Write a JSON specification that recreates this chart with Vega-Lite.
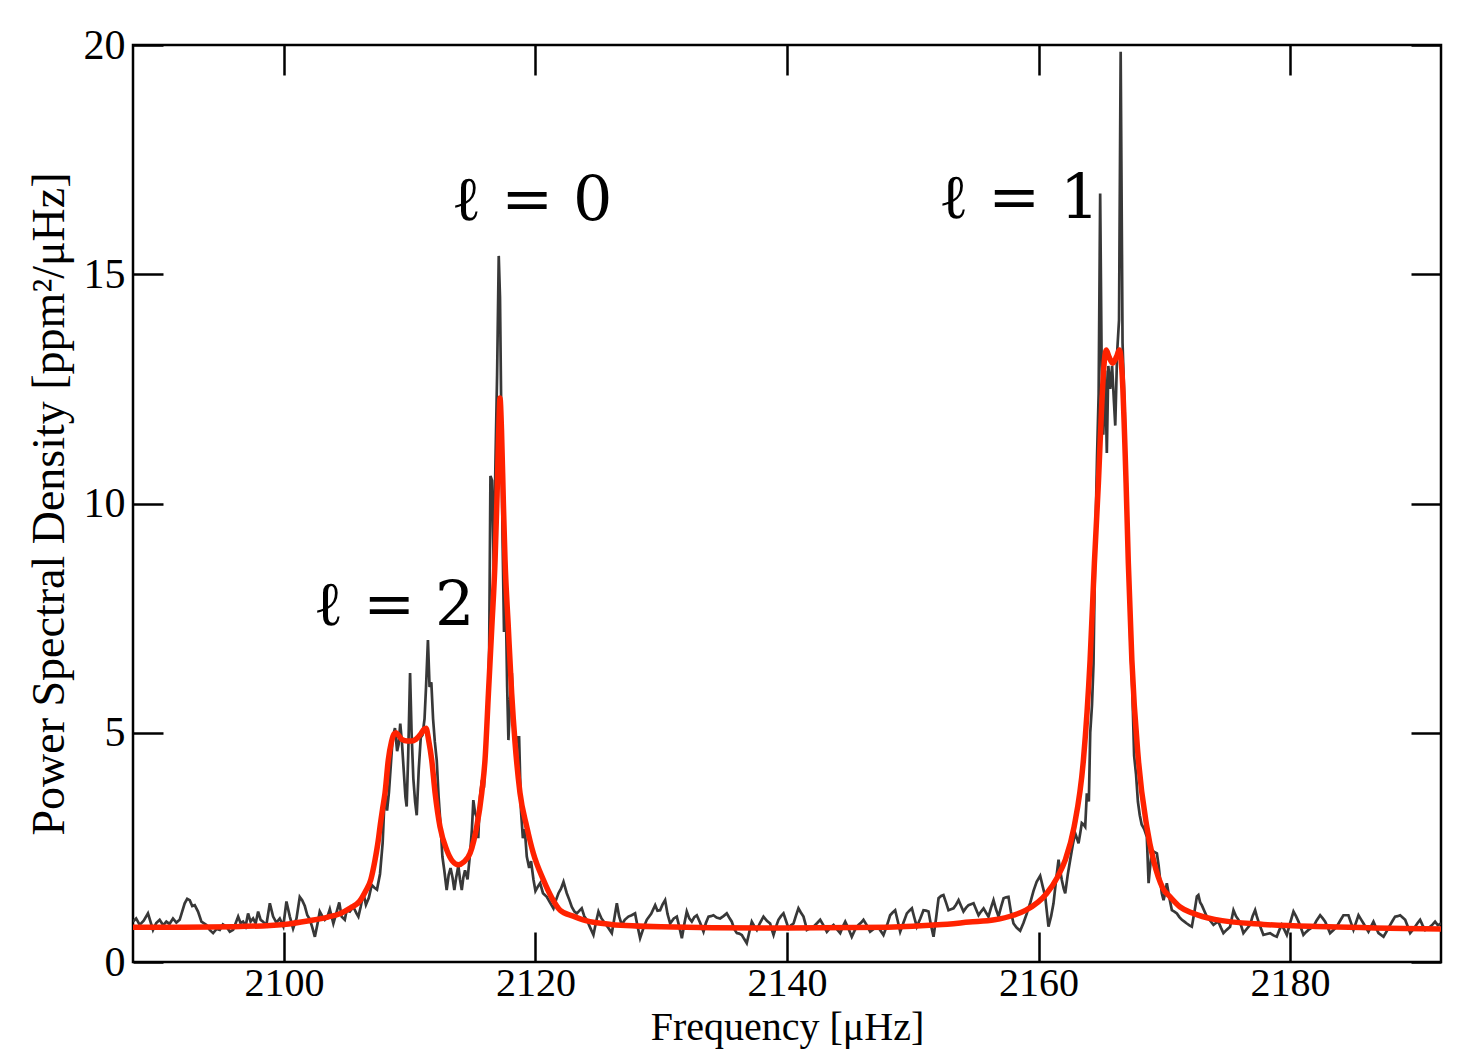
{
  "$schema": "https://vega.github.io/schema/vega-lite/v6.json",
  "width": 1308,
  "height": 917,
  "autosize": {"type": "none"},
  "padding": {"left": 133, "top": 45, "right": 19, "bottom": 93},
  "background": "white",
  "config": {
    "view": {"stroke": "#000", "strokeWidth": 2.5},
    "axis": {
      "domain": false, "grid": false, "ticks": true,
      "tickColor": "#000", "tickWidth": 2.5, "tickSize": -30,
      "labelFont": "Liberation Serif", "labelFontSize": 42, "labelColor": "#000",
      "titleFont": "Liberation Serif", "titleFontSize": 46, "titleFontWeight": "normal", "titleColor": "#000"
    }
  },
  "datasets": {
    "spec": [
      {"f":2088.0,"p":0.88},{"f":2088.25,"p":0.95},{"f":2088.53,"p":0.81},{"f":2088.85,"p":0.9},{"f":2089.19,"p":1.06},{"f":2089.59,"p":0.70},{"f":2089.85,"p":0.85},{"f":2090.12,"p":0.92},{"f":2090.4,"p":0.80},{"f":2090.65,"p":0.88},{"f":2090.9,"p":0.83},{"f":2091.18,"p":0.95},{"f":2091.45,"p":0.86},{"f":2091.71,"p":0.92},{"f":2092.11,"p":1.28},{"f":2092.31,"p":1.38},{"f":2092.51,"p":1.35},{"f":2092.71,"p":1.22},{"f":2092.91,"p":1.24},{"f":2093.17,"p":1.10},{"f":2093.44,"p":0.88},{"f":2093.84,"p":0.81},{"f":2094.1,"p":0.70},{"f":2094.37,"p":0.63},{"f":2094.65,"p":0.72},{"f":2094.90,"p":0.70},{"f":2095.15,"p":0.82},{"f":2095.43,"p":0.77},{"f":2095.7,"p":0.66},{"f":2095.96,"p":0.70},{"f":2096.36,"p":0.99},{"f":2096.55,"p":0.85},{"f":2096.75,"p":0.88},{"f":2096.95,"p":0.78},{"f":2097.15,"p":1.06},{"f":2097.35,"p":0.88},{"f":2097.55,"p":0.95},{"f":2097.75,"p":0.84},{"f":2097.95,"p":1.10},{"f":2098.15,"p":0.92},{"f":2098.34,"p":0.88},{"f":2098.6,"p":0.80},{"f":2098.88,"p":1.28},{"f":2099.14,"p":0.99},{"f":2099.4,"p":0.86},{"f":2099.67,"p":0.95},{"f":2099.95,"p":0.78},{"f":2100.20,"p":1.32},{"f":2100.47,"p":0.99},{"f":2100.73,"p":0.73},{"f":2101.0,"p":0.95},{"f":2101.26,"p":1.42},{"f":2101.45,"p":1.35},{"f":2101.66,"p":1.22},{"f":2101.86,"p":1.02},{"f":2102.06,"p":0.93},{"f":2102.26,"p":0.75},{"f":2102.46,"p":0.55},{"f":2102.66,"p":0.82},{"f":2102.85,"p":1.10},{"f":2103.05,"p":1.0},{"f":2103.25,"p":0.92},{"f":2103.45,"p":0.98},{"f":2103.65,"p":1.15},{"f":2103.93,"p":0.84},{"f":2104.15,"p":1.05},{"f":2104.40,"p":1.30},{"f":2104.59,"p":0.99},{"f":2104.84,"p":0.92},{"f":2104.99,"p":1.13},{"f":2105.24,"p":1.10},{"f":2105.52,"p":1.20},{"f":2105.77,"p":1.06},{"f":2105.92,"p":0.99},{"f":2106.1,"p":1.2},{"f":2106.32,"p":1.50},{"f":2106.52,"p":1.25},{"f":2106.75,"p":1.40},{"f":2106.98,"p":1.68},{"f":2107.2,"p":1.62},{"f":2107.4,"p":1.58},{"f":2107.64,"p":1.92},{"f":2107.85,"p":2.6},{"f":2108.04,"p":3.8},{"f":2108.2,"p":3.3},{"f":2108.35,"p":3.7},{"f":2108.5,"p":4.3},{"f":2108.65,"p":4.9},{"f":2108.83,"p":5.1},{"f":2109.0,"p":4.6},{"f":2109.12,"p":4.75},{"f":2109.25,"p":5.2},{"f":2109.38,"p":4.8},{"f":2109.52,"p":4.2},{"f":2109.66,"p":3.6},{"f":2109.76,"p":3.39},{"f":2109.88,"p":4.5},{"f":2110.03,"p":6.3},{"f":2110.15,"p":5.0},{"f":2110.29,"p":4.0},{"f":2110.43,"p":3.5},{"f":2110.56,"p":3.2},{"f":2110.72,"p":4.2},{"f":2110.88,"p":4.9},{"f":2111.02,"p":4.95},{"f":2111.18,"p":5.3},{"f":2111.3,"p":6.0},{"f":2111.45,"p":7.02},{"f":2111.58,"p":6.0},{"f":2111.72,"p":6.1},{"f":2111.86,"p":5.3},{"f":2112.0,"p":4.8},{"f":2112.15,"p":4.4},{"f":2112.3,"p":3.6},{"f":2112.45,"p":3.0},{"f":2112.6,"p":2.3},{"f":2112.75,"p":2.0},{"f":2112.94,"p":1.57},{"f":2113.1,"p":1.9},{"f":2113.25,"p":2.05},{"f":2113.4,"p":1.85},{"f":2113.55,"p":1.57},{"f":2113.7,"p":1.85},{"f":2113.87,"p":2.1},{"f":2114.0,"p":1.8},{"f":2114.14,"p":1.57},{"f":2114.27,"p":1.85},{"f":2114.40,"p":2.0},{"f":2114.6,"p":1.8},{"f":2114.80,"p":2.37},{"f":2114.95,"p":2.9},{"f":2115.06,"p":3.53},{"f":2115.2,"p":3.25},{"f":2115.33,"p":3.16},{"f":2115.45,"p":2.7},{"f":2115.59,"p":3.6},{"f":2115.75,"p":3.97},{"f":2115.9,"p":3.8},{"f":2116.05,"p":4.6},{"f":2116.2,"p":5.5},{"f":2116.32,"p":6.8},{"f":2116.42,"p":10.6},{"f":2116.55,"p":10.5},{"f":2116.68,"p":8.6},{"f":2116.82,"p":10.9},{"f":2116.95,"p":12.8},{"f":2117.08,"p":15.4},{"f":2117.18,"p":14.5},{"f":2117.28,"p":12.0},{"f":2117.38,"p":9.3},{"f":2117.5,"p":7.2},{"f":2117.62,"p":8.2},{"f":2117.75,"p":6.0},{"f":2117.85,"p":4.84},{"f":2117.98,"p":5.7},{"f":2118.12,"p":6.3},{"f":2118.25,"p":5.2},{"f":2118.4,"p":4.6},{"f":2118.55,"p":4.9},{"f":2118.7,"p":4.9},{"f":2118.85,"p":3.3},{"f":2119.0,"p":2.7},{"f":2119.15,"p":2.9},{"f":2119.31,"p":2.3},{"f":2119.5,"p":2.05},{"f":2119.65,"p":2.2},{"f":2119.84,"p":1.8},{"f":2120.0,"p":1.55},{"f":2120.2,"p":1.65},{"f":2120.37,"p":1.72},{"f":2120.6,"p":1.5},{"f":2120.9,"p":1.42},{"f":2121.15,"p":1.3},{"f":2121.43,"p":1.17},{"f":2121.63,"p":1.35},{"f":2121.83,"p":1.50},{"f":2122.03,"p":1.6},{"f":2122.23,"p":1.75},{"f":2122.49,"p":1.50},{"f":2122.7,"p":1.35},{"f":2122.89,"p":1.20},{"f":2123.1,"p":1.10},{"f":2123.29,"p":1.06},{"f":2123.5,"p":1.12},{"f":2123.68,"p":1.17},{"f":2123.88,"p":1.0},{"f":2124.08,"p":0.92},{"f":2124.35,"p":0.75},{"f":2124.61,"p":0.59},{"f":2124.8,"p":0.85},{"f":2125.01,"p":1.10},{"f":2125.25,"p":0.95},{"f":2125.54,"p":0.84},{"f":2125.8,"p":0.74},{"f":2126.07,"p":0.63},{"f":2126.27,"p":0.95},{"f":2126.47,"p":1.28},{"f":2126.65,"p":1.0},{"f":2126.86,"p":0.81},{"f":2127.1,"p":0.92},{"f":2127.39,"p":0.99},{"f":2127.65,"p":1.02},{"f":2127.92,"p":1.06},{"f":2128.1,"p":0.8},{"f":2128.32,"p":0.52},{"f":2128.6,"p":0.75},{"f":2128.85,"p":0.92},{"f":2129.2,"p":1.05},{"f":2129.52,"p":1.24},{"f":2129.7,"p":1.12},{"f":2129.91,"p":1.13},{"f":2130.1,"p":1.25},{"f":2130.31,"p":1.35},{"f":2130.5,"p":1.05},{"f":2130.71,"p":0.84},{"f":2131.0,"p":0.95},{"f":2131.24,"p":0.99},{"f":2131.45,"p":0.75},{"f":2131.64,"p":0.52},{"f":2131.85,"p":0.85},{"f":2132.03,"p":1.10},{"f":2132.23,"p":0.95},{"f":2132.43,"p":0.88},{"f":2132.63,"p":0.98},{"f":2132.83,"p":1.02},{"f":2133.1,"p":0.85},{"f":2133.36,"p":0.66},{"f":2133.55,"p":0.85},{"f":2133.76,"p":0.99},{"f":2133.95,"p":1.0},{"f":2134.15,"p":1.02},{"f":2134.4,"p":0.97},{"f":2134.68,"p":0.95},{"f":2134.95,"p":1.0},{"f":2135.21,"p":1.06},{"f":2135.4,"p":0.97},{"f":2135.61,"p":0.88},{"f":2135.8,"p":0.72},{"f":2136.01,"p":0.63},{"f":2136.2,"p":0.62},{"f":2136.41,"p":0.59},{"f":2136.6,"p":0.5},{"f":2136.8,"p":0.41},{"f":2137.0,"p":0.65},{"f":2137.2,"p":0.88},{"f":2137.4,"p":0.78},{"f":2137.6,"p":0.70},{"f":2137.85,"p":0.85},{"f":2138.13,"p":0.99},{"f":2138.4,"p":0.9},{"f":2138.66,"p":0.84},{"f":2138.8,"p":0.7},{"f":2138.93,"p":0.59},{"f":2139.1,"p":0.75},{"f":2139.32,"p":0.92},{"f":2139.52,"p":1.0},{"f":2139.72,"p":1.06},{"f":2139.92,"p":0.9},{"f":2140.12,"p":0.73},{"f":2140.32,"p":0.8},{"f":2140.52,"p":0.84},{"f":2140.7,"p":1.0},{"f":2140.91,"p":1.17},{"f":2141.1,"p":1.08},{"f":2141.31,"p":0.99},{"f":2141.45,"p":0.85},{"f":2141.58,"p":0.70},{"f":2141.85,"p":0.74},{"f":2142.11,"p":0.77},{"f":2142.4,"p":0.85},{"f":2142.64,"p":0.92},{"f":2142.9,"p":0.8},{"f":2143.17,"p":0.66},{"f":2143.45,"p":0.75},{"f":2143.70,"p":0.81},{"f":2143.95,"p":0.72},{"f":2144.23,"p":0.63},{"f":2144.45,"p":0.78},{"f":2144.63,"p":0.88},{"f":2144.9,"p":0.72},{"f":2145.15,"p":0.55},{"f":2145.4,"p":0.7},{"f":2145.68,"p":0.81},{"f":2145.9,"p":0.86},{"f":2146.08,"p":0.92},{"f":2146.35,"p":0.8},{"f":2146.61,"p":0.66},{"f":2146.9,"p":0.72},{"f":2147.14,"p":0.77},{"f":2147.4,"p":0.7},{"f":2147.67,"p":0.59},{"f":2147.95,"p":0.8},{"f":2148.20,"p":1.02},{"f":2148.4,"p":1.08},{"f":2148.60,"p":1.13},{"f":2148.8,"p":0.9},{"f":2149.00,"p":0.66},{"f":2149.25,"p":0.85},{"f":2149.53,"p":1.06},{"f":2149.73,"p":1.12},{"f":2149.93,"p":1.17},{"f":2150.12,"p":0.97},{"f":2150.32,"p":0.77},{"f":2150.6,"p":0.95},{"f":2150.85,"p":1.13},{"f":2151.05,"p":1.12},{"f":2151.25,"p":1.10},{"f":2151.45,"p":0.8},{"f":2151.65,"p":0.55},{"f":2151.85,"p":0.95},{"f":2152.05,"p":1.39},{"f":2152.25,"p":1.44},{"f":2152.44,"p":1.46},{"f":2152.64,"p":1.3},{"f":2152.84,"p":1.13},{"f":2153.04,"p":1.15},{"f":2153.24,"p":1.17},{"f":2153.44,"p":1.25},{"f":2153.64,"p":1.35},{"f":2153.84,"p":1.22},{"f":2154.03,"p":1.10},{"f":2154.23,"p":1.18},{"f":2154.43,"p":1.24},{"f":2154.63,"p":1.26},{"f":2154.83,"p":1.28},{"f":2155.03,"p":1.15},{"f":2155.23,"p":1.02},{"f":2155.43,"p":1.1},{"f":2155.63,"p":1.17},{"f":2155.82,"p":1.08},{"f":2156.02,"p":0.99},{"f":2156.22,"p":1.18},{"f":2156.42,"p":1.35},{"f":2156.62,"p":1.15},{"f":2156.82,"p":0.99},{"f":2157.02,"p":1.2},{"f":2157.22,"p":1.39},{"f":2157.42,"p":1.41},{"f":2157.61,"p":1.42},{"f":2157.8,"p":1.1},{"f":2158.01,"p":0.84},{"f":2158.25,"p":0.75},{"f":2158.54,"p":0.68},{"f":2158.8,"p":0.85},{"f":2159.07,"p":1.06},{"f":2159.35,"p":1.3},{"f":2159.60,"p":1.55},{"f":2159.85,"p":1.75},{"f":2160.13,"p":1.88},{"f":2160.33,"p":1.65},{"f":2160.53,"p":1.43},{"f":2160.66,"p":1.1},{"f":2160.79,"p":0.77},{"f":2161.0,"p":1.0},{"f":2161.19,"p":1.28},{"f":2161.4,"p":1.8},{"f":2161.59,"p":2.23},{"f":2161.72,"p":2.0},{"f":2161.85,"p":1.79},{"f":2162.0,"p":1.6},{"f":2162.12,"p":1.50},{"f":2162.32,"p":1.9},{"f":2162.52,"p":2.23},{"f":2162.72,"p":2.55},{"f":2162.91,"p":2.81},{"f":2163.05,"p":2.7},{"f":2163.18,"p":2.59},{"f":2163.31,"p":2.8},{"f":2163.44,"p":3.03},{"f":2163.58,"p":3.0},{"f":2163.71,"p":2.95},{"f":2163.84,"p":3.68},{"f":2164.0,"p":3.5},{"f":2164.11,"p":5.0},{"f":2164.25,"p":5.6},{"f":2164.37,"p":6.5},{"f":2164.5,"p":9.0},{"f":2164.65,"p":11.0},{"f":2164.78,"p":12.4},{"f":2164.9,"p":16.76},{"f":2165.02,"p":13.0},{"f":2165.15,"p":11.5},{"f":2165.3,"p":12.9},{"f":2165.43,"p":11.1},{"f":2165.55,"p":13.0},{"f":2165.7,"p":12.5},{"f":2165.85,"p":13.0},{"f":2166.0,"p":12.2},{"f":2166.1,"p":11.7},{"f":2166.25,"p":13.3},{"f":2166.4,"p":14.0},{"f":2166.53,"p":19.85},{"f":2166.68,"p":13.5},{"f":2166.85,"p":12.0},{"f":2167.02,"p":9.4},{"f":2167.15,"p":9.0},{"f":2167.3,"p":7.0},{"f":2167.45,"p":6.0},{"f":2167.6,"p":4.5},{"f":2167.75,"p":4.1},{"f":2167.9,"p":3.5},{"f":2168.05,"p":3.2},{"f":2168.2,"p":3.0},{"f":2168.4,"p":2.9},{"f":2168.61,"p":2.73},{"f":2168.75,"p":1.72},{"f":2168.88,"p":2.1},{"f":2169.01,"p":2.44},{"f":2169.2,"p":2.4},{"f":2169.41,"p":2.37},{"f":2169.55,"p":2.1},{"f":2169.67,"p":1.79},{"f":2169.8,"p":1.5},{"f":2169.94,"p":1.35},{"f":2170.07,"p":1.5},{"f":2170.20,"p":1.72},{"f":2170.4,"p":1.4},{"f":2170.60,"p":1.13},{"f":2170.8,"p":1.1},{"f":2171.00,"p":1.06},{"f":2171.2,"p":0.98},{"f":2171.40,"p":0.92},{"f":2171.6,"p":0.88},{"f":2171.79,"p":0.84},{"f":2172.0,"p":0.8},{"f":2172.19,"p":0.77},{"f":2172.4,"p":1.1},{"f":2172.59,"p":1.43},{"f":2172.71,"p":1.46},{"f":2172.85,"p":1.30},{"f":2172.98,"p":1.24},{"f":2173.2,"p":1.1},{"f":2173.38,"p":0.99},{"f":2173.65,"p":0.9},{"f":2173.91,"p":0.81},{"f":2174.1,"p":0.85},{"f":2174.30,"p":0.88},{"f":2174.5,"p":0.75},{"f":2174.70,"p":0.63},{"f":2174.95,"p":0.7},{"f":2175.23,"p":0.77},{"f":2175.50,"p":1.13},{"f":2175.7,"p":1.0},{"f":2175.90,"p":0.92},{"f":2176.1,"p":0.8},{"f":2176.29,"p":0.63},{"f":2176.55,"p":0.72},{"f":2176.82,"p":0.81},{"f":2177.02,"p":1.0},{"f":2177.22,"p":1.13},{"f":2177.35,"p":1.0},{"f":2177.49,"p":0.88},{"f":2177.7,"p":0.72},{"f":2177.88,"p":0.59},{"f":2178.15,"p":0.61},{"f":2178.41,"p":0.63},{"f":2178.68,"p":0.58},{"f":2178.94,"p":0.55},{"f":2179.15,"p":0.7},{"f":2179.34,"p":0.81},{"f":2179.55,"p":0.7},{"f":2179.74,"p":0.59},{"f":2180.0,"p":0.85},{"f":2180.27,"p":1.10},{"f":2180.47,"p":1.0},{"f":2180.67,"p":0.88},{"f":2180.87,"p":0.74},{"f":2181.06,"p":0.59},{"f":2181.26,"p":0.65},{"f":2181.46,"p":0.70},{"f":2181.66,"p":0.74},{"f":2181.86,"p":0.77},{"f":2182.1,"p":0.9},{"f":2182.39,"p":1.02},{"f":2182.6,"p":0.95},{"f":2182.79,"p":0.88},{"f":2183.0,"p":0.75},{"f":2183.18,"p":0.63},{"f":2183.45,"p":0.7},{"f":2183.71,"p":0.77},{"f":2183.98,"p":0.9},{"f":2184.24,"p":1.02},{"f":2184.44,"p":1.02},{"f":2184.64,"p":1.02},{"f":2184.84,"p":0.86},{"f":2185.04,"p":0.70},{"f":2185.24,"p":0.86},{"f":2185.44,"p":1.02},{"f":2185.64,"p":0.93},{"f":2185.84,"p":0.84},{"f":2186.03,"p":0.75},{"f":2186.23,"p":0.66},{"f":2186.43,"p":0.77},{"f":2186.63,"p":0.88},{"f":2186.83,"p":0.75},{"f":2187.03,"p":0.63},{"f":2187.23,"p":0.59},{"f":2187.43,"p":0.55},{"f":2187.7,"p":0.68},{"f":2187.96,"p":0.81},{"f":2188.15,"p":0.9},{"f":2188.35,"p":0.99},{"f":2188.55,"p":1.0},{"f":2188.75,"p":1.02},{"f":2188.95,"p":0.97},{"f":2189.15,"p":0.92},{"f":2189.35,"p":0.78},{"f":2189.55,"p":0.63},{"f":2189.75,"p":0.7},{"f":2189.94,"p":0.77},{"f":2190.14,"p":0.85},{"f":2190.34,"p":0.92},{"f":2190.54,"p":0.8},{"f":2190.74,"p":0.70},{"f":2190.94,"p":0.74},{"f":2191.14,"p":0.77},{"f":2191.34,"p":0.82},{"f":2191.53,"p":0.88},{"f":2191.75,"p":0.8},{"f":2192.0,"p":0.84}
    ],
    "fit": [
      {"f":2088.0,"m":0.76},{"f":2092.0,"m":0.76},{"f":2096.0,"m":0.77},{"f":2100.0,"m":0.82},{"f":2102.0,"m":0.90},{"f":2103.5,"m":0.98},{"f":2104.5,"m":1.06},{"f":2105.3,"m":1.18},{"f":2106.0,"m":1.32},{"f":2106.5,"m":1.55},{"f":2106.9,"m":1.79},{"f":2107.24,"m":2.22},{"f":2107.5,"m":2.65},{"f":2107.64,"m":2.95},{"f":2107.85,"m":3.35},{"f":2108.04,"m":3.69},{"f":2108.3,"m":4.41},{"f":2108.55,"m":4.80},{"f":2108.75,"m":4.97},{"f":2108.91,"m":5.0},{"f":2109.1,"m":4.95},{"f":2109.4,"m":4.85},{"f":2109.8,"m":4.82},{"f":2110.16,"m":4.82},{"f":2110.5,"m":4.86},{"f":2110.9,"m":4.98},{"f":2111.15,"m":5.08},{"f":2111.30,"m":5.10},{"f":2111.5,"m":4.85},{"f":2111.75,"m":4.41},{"f":2112.02,"m":3.69},{"f":2112.41,"m":2.95},{"f":2112.95,"m":2.44},{"f":2113.4,"m":2.2},{"f":2113.87,"m":2.12},{"f":2114.3,"m":2.18},{"f":2114.80,"m":2.37},{"f":2115.1,"m":2.65},{"f":2115.33,"m":2.95},{"f":2115.73,"m":3.69},{"f":2115.99,"m":4.41},{"f":2116.26,"m":5.86},{"f":2116.53,"m":7.31},{"f":2116.79,"m":8.77},{"f":2116.95,"m":10.2},{"f":2117.1,"m":11.8},{"f":2117.18,"m":12.3},{"f":2117.3,"m":11.6},{"f":2117.45,"m":10.0},{"f":2117.58,"m":8.77},{"f":2117.84,"m":7.31},{"f":2118.11,"m":5.86},{"f":2118.38,"m":4.77},{"f":2118.77,"m":3.69},{"f":2119.31,"m":2.95},{"f":2119.83,"m":2.37},{"f":2120.63,"m":1.79},{"f":2121.3,"m":1.40},{"f":2121.96,"m":1.13},{"f":2123.0,"m":1.00},{"f":2124.0,"m":0.90},{"f":2126.0,"m":0.82},{"f":2130.0,"m":0.77},{"f":2140.0,"m":0.74},{"f":2148.0,"m":0.76},{"f":2152.0,"m":0.81},{"f":2154.5,"m":0.87},{"f":2156.5,"m":0.92},{"f":2158.0,"m":1.02},{"f":2159.0,"m":1.13},{"f":2160.66,"m":1.50},{"f":2161.5,"m":1.85},{"f":2162.12,"m":2.22},{"f":2162.83,"m":2.95},{"f":2163.57,"m":4.41},{"f":2164.10,"m":6.59},{"f":2164.44,"m":8.7},{"f":2164.76,"m":10.45},{"f":2165.0,"m":12.0},{"f":2165.2,"m":13.0},{"f":2165.38,"m":13.35},{"f":2165.6,"m":13.2},{"f":2165.9,"m":13.06},{"f":2166.2,"m":13.2},{"f":2166.43,"m":13.35},{"f":2166.65,"m":12.8},{"f":2166.96,"m":10.45},{"f":2167.14,"m":8.7},{"f":2167.42,"m":6.59},{"f":2167.94,"m":4.41},{"f":2168.61,"m":2.95},{"f":2169.14,"m":2.22},{"f":2169.9,"m":1.6},{"f":2170.46,"m":1.42},{"f":2171.26,"m":1.2},{"f":2172.3,"m":1.06},{"f":2174.0,"m":0.93},{"f":2177.9,"m":0.82},{"f":2183.0,"m":0.77},{"f":2192.0,"m":0.72}
    ],
    "labels": [
      {"f":2119.73,"p":16.18,"label":"ℓ = 0"},
      {"f":2158.46,"p":16.23,"label":"ℓ = 1"},
      {"f":2108.76,"p":7.35,"label":"ℓ = 2"}
    ]
  },
  "layer": [
    {
      "data": {"name": "spec"},
      "mark": {"type": "line", "color": "#383838", "strokeWidth": 2.7, "clip": true},
      "encoding": {
        "x": {"field": "f", "type": "quantitative", "scale": {"domain": [2088, 2192], "nice": false, "zero": false},
              "axis": {"orient": "bottom", "values": [2100, 2120, 2140, 2160, 2180], "format": "d", "title": "Frequency [μHz]", "labelFontSize": 40, "labelPadding": 31, "titleFontSize": 40, "titlePadding": 4}},
        "y": {"field": "p", "type": "quantitative", "scale": {"domain": [0, 20], "nice": false, "zero": true},
              "axis": {"orient": "left", "values": [0, 5, 10, 15, 20], "format": "d", "title": "Power Spectral Density [ppm²/μHz]", "labelPadding": 38, "titlePadding": 10}}
      }
    },
    {
      "data": {"name": "fit"},
      "mark": {"type": "line", "color": "#ff2200", "strokeWidth": 5.5, "interpolate": "monotone", "clip": true},
      "encoding": {
        "x": {"field": "f", "type": "quantitative", "axis": {"orient": "top", "values": [2100, 2120, 2140, 2160, 2180], "labels": false, "title": null}},
        "y": {"field": "m", "type": "quantitative", "axis": {"orient": "right", "values": [0, 5, 10, 15, 20], "labels": false, "title": null}}
      }
    },
    {
      "data": {"name": "labels"},
      "mark": {"type": "text", "font": "DejaVu Serif", "fontSize": 62, "align": "center", "baseline": "alphabetic", "color": "#000"},
      "encoding": {
        "x": {"field": "f", "type": "quantitative", "axis": null},
        "y": {"field": "p", "type": "quantitative", "axis": null},
        "text": {"field": "label"}
      }
    }
  ],
  "resolve": {"axis": {"x": "independent", "y": "independent"}}
}
